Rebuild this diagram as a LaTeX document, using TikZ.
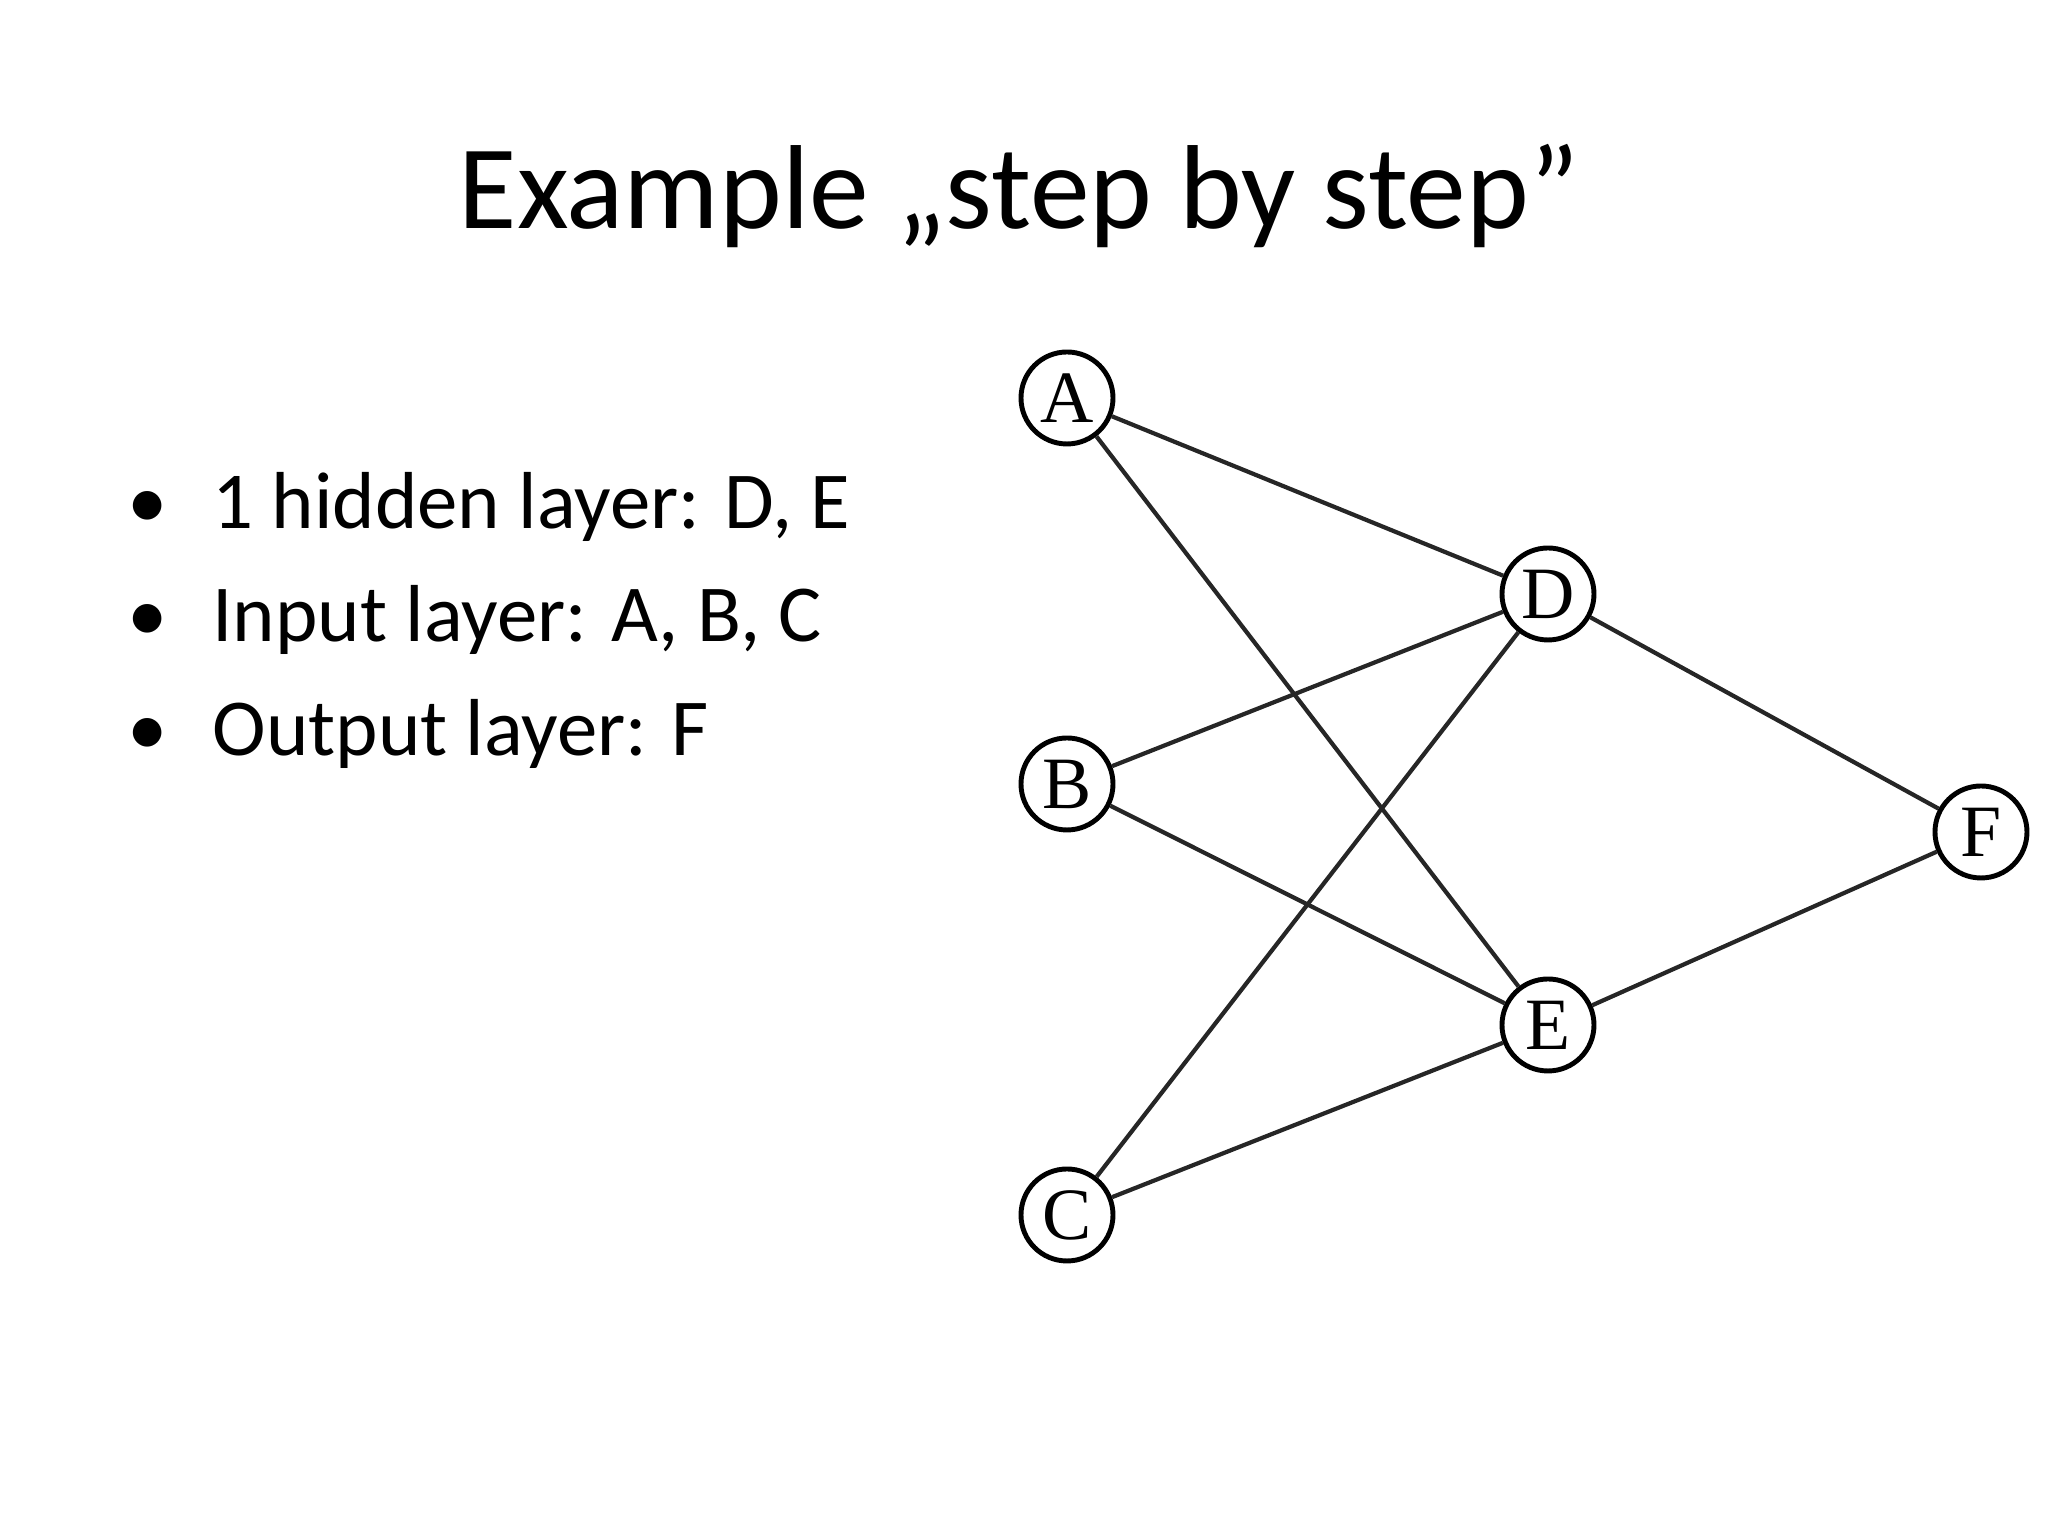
\documentclass[tikz,border=0pt]{standalone}
\usepackage{fontspec}
\setmainfont{Carlito}
\newfontfamily\nodefont{Liberation Serif}
\usetikzlibrary{positioning}
\tikzset{
    unit/.style={
           circle,
           draw=black, line width=1.4pt,
           minimum size=0.92cm,
           inner sep=0pt,
           font=\nodefont\fontsize{21}{21}\selectfont,
           },
    link/.style={line width=1.2pt, draw=black!85},
    item/.style={anchor=west, font=\fontsize{23}{23}\selectfont},
}
\begin{document}
\begin{tikzpicture}
 \useasboundingbox (0,0) rectangle (20.48,15.36);

 % title
 \node[font=\fontsize{34}{34}\selectfont] (title) at (10.19,13.40) {Example „step by step”};

 % bullet list
 \node[item] (hidden) at (1.15,10.29) {\textbullet\hspace{0.45cm}1 hidden layer: D, E};
 \node[item] (input)  at (1.15,9.16)  {\textbullet\hspace{0.45cm}Input layer: A, B, C};
 \node[item] (output) at (1.15,8.02)  {\textbullet\hspace{0.45cm}Output layer: F};

 % network units
 \node[unit] (A) at (10.67,11.38) {A};
 \node[unit] (B) at (10.67,7.52)  {B};
 \node[unit] (C) at (10.67,3.21)  {C};
 \node[unit] (D) at (15.48,9.42)  {D};
 \node[unit] (E) at (15.48,5.11)  {E};
 \node[unit] (F) at (19.81,7.04)  {F};

 % connections
 \foreach \src in {A,B,C}
   \foreach \dst in {D,E}
     \draw[link] (\src) -- (\dst);
 \draw[link] (D) -- (F);
 \draw[link] (E) -- (F);

\end{tikzpicture}
\end{document}
